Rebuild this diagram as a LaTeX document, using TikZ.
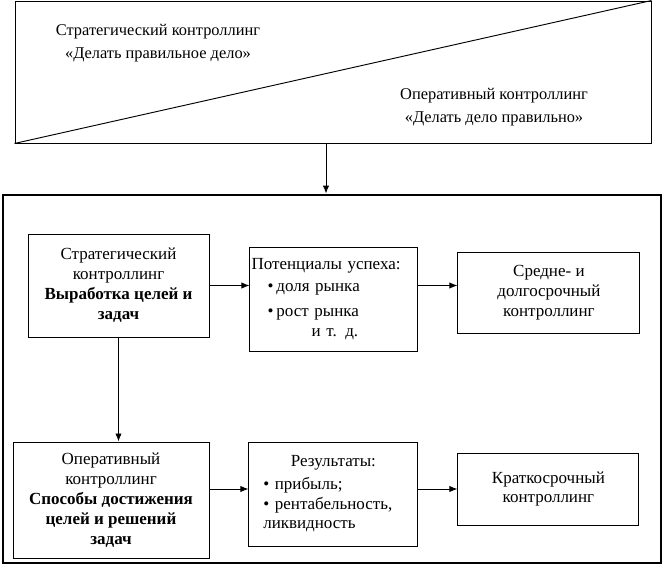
\documentclass[tikz,border=0pt]{standalone}
\usepackage{fontspec}
\setmainfont{Liberation Serif}
\usetikzlibrary{arrows.meta,positioning,calc}

\begin{document}
\begin{tikzpicture}[
    x=0.03cm, y=-0.03cm,
    >={Latex[length=2.4mm,width=1.9mm]},
    font=\fontsize{14.5}{17}\selectfont,
    box/.style={rectangle, draw, line width=0.8pt, align=center, inner sep=1pt},
    listbox/.style={box, align=left, inner xsep=0.05cm},
    frame/.style={rectangle, draw, line width=2.4pt, minimum width=19.74cm, minimum height=11.04cm}
]
    \useasboundingbox (0,0) rectangle (665,571);

    % Upper box with diagonal
    \node[rectangle, draw, line width=0.8pt, minimum width=19.08cm, minimum height=4.26cm] (top) at (333,72) {};
    \draw[line width=0.8pt] (top.south west) -- (top.north east);
    \node[align=center, font=\fontsize{14}{17}\selectfont] (strat) at (158,43) {Стратегический контроллинг\\[3pt]«Делать правильное дело»};
    \node[align=center, font=\fontsize{14}{17}\selectfont] (oper) at (494,107) {Оперативный контроллинг\\[3pt]«Делать дело правильно»};

    % Outer frame
    \node[frame] (fr) at (332,379) {};

    % Strategic row
    \node[box, minimum width=5.43cm, minimum height=3.09cm] (goals) at (118.5,285.5)
        {Стратегический\\контроллинг\\\textbf{Выработка целей и}\\\textbf{задач}};
    \node[listbox, text width=4.94cm, minimum height=3.12cm, right=1.2cm of goals, yshift=-0.405cm] (potent)
        {Потенциалы успеха:\\[2pt]
         \hspace*{0.48cm}\textbullet\,доля рынка\\[4pt]
         \hspace*{0.48cm}\textbullet\,рост рынка\\
         \hspace*{1.8cm}и т. д.};
    \node[box, minimum width=5.46cm, minimum height=2.43cm, right=1.17cm of potent, yshift=0.195cm] (longc)
        {Средне- и\\долгосрочный\\контроллинг};

    % Operative row
    \node[box, minimum width=5.88cm, minimum height=3.48cm] (ways) at (111,500)
        {Оперативный\\контроллинг\\\textbf{Способы достижения}\\\textbf{целей и решений}\\\textbf{задач}};
    \node[listbox, text width=4.97cm, minimum height=3.12cm, right=1.17cm of ways, yshift=0.18cm] (result)
        {\makebox[\linewidth]{Результаты:}\\[2pt]
         \hspace*{0.38cm}\textbullet\ прибыль;\\
         \hspace*{0.38cm}\textbullet\ рентабельность,\\
         \hspace*{0.38cm}ликвидность};
    \node[box, minimum width=5.43cm, minimum height=2.16cm, right=1.17cm of result, yshift=0.15cm] (shortc)
        {Краткосрочный\\контроллинг};

    % Edges
    \draw[->, line width=0.8pt] ([xshift=-0.21cm]top.south) -- ([xshift=-0.21cm]top.south |- fr.north);
    \draw[->, line width=0.8pt] (goals.east) -- (goals.east -| potent.west);
    \draw[->, line width=0.8pt] (goals.east -| potent.east) -- (goals.east -| longc.west);
    \draw[->, line width=0.8pt] (goals.south) -- (goals.south |- ways.north);
    \draw[->, line width=0.8pt] (ways.east |- shortc) -- (result.west |- shortc);
    \draw[->, line width=0.8pt] (result.east |- shortc) -- (shortc.west);
\end{tikzpicture}
\end{document}
